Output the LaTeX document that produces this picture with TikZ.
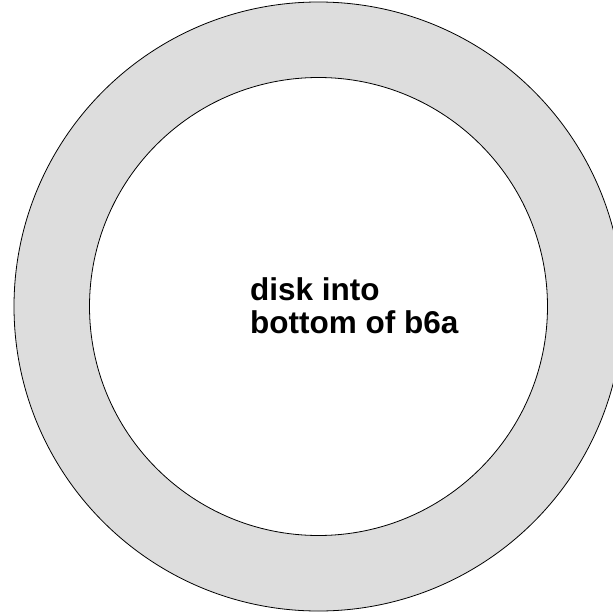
\documentclass[tikz,border=0pt]{standalone}
\usepackage{fontspec}
\setmainfont{Liberation Sans}
\usetikzlibrary{calc}
\definecolor{ringgray}{RGB}{221,221,221}

\begin{document}
\begin{tikzpicture}[x=1pt, y=-1pt]
    \useasboundingbox (0,0) rectangle (613,616);
    \begin{scope}
        \clip (0,0) rectangle (613,616);
        \coordinate (O) at (318.5,306.5);
        \draw [fill=ringgray, even odd rule, line width=0.8pt] (O) circle (304.5) (O) circle (229);
    \end{scope}
    \node (label) at (250,333) [anchor=base west, align=left, font=\bfseries\fontsize{31.5}{33}\selectfont, inner sep=0pt] {disk into\\bottom of b6a};
\end{tikzpicture}
\end{document}
